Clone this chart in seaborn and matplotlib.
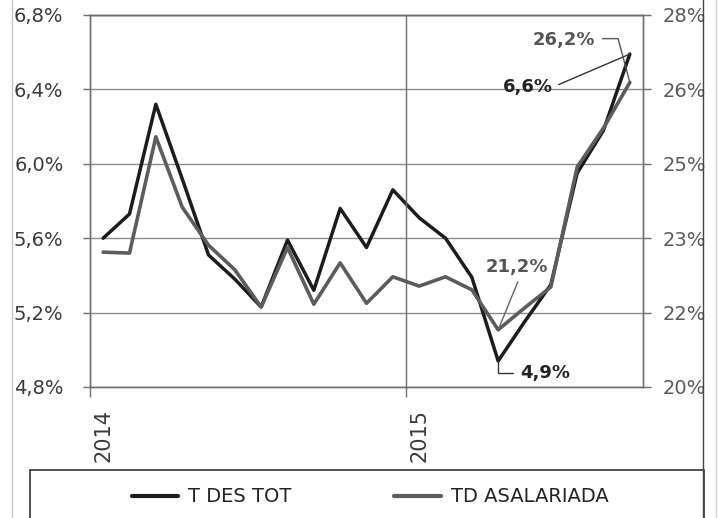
import matplotlib
matplotlib.use("Agg")
import matplotlib.pyplot as plt
import seaborn as sns
import pandas as pd
from matplotlib.ticker import FuncFormatter
from matplotlib.lines import Line2D
from matplotlib.patches import Rectangle

# data (monthly, Jan 2014 - Sep 2015)
t_des_tot = [5.60, 5.73, 6.32, 5.92, 5.51, 5.38, 5.23, 5.59, 5.32, 5.76, 5.55,
             5.86, 5.71, 5.60, 5.39, 4.94, 5.15, 5.35, 5.95, 6.18, 6.59]
td_asalariada = [22.90, 22.88, 25.38, 23.87, 23.05, 22.52, 21.72, 23.00, 21.78,
                 22.67, 21.80, 22.37, 22.17, 22.37, 22.09, 21.23, 21.70, 22.15,
                 24.73, 25.57, 26.55]
year_ticks = [0, 12]
year_labels = ["2014", "2015"]
left_ticks = [4.8, 5.2, 5.6, 6.0, 6.4, 6.8]
right_ticks = [20, 21.6, 23.2, 24.8, 26.4, 28]

df = pd.DataFrame({"mes": range(len(t_des_tot)),
                   "T DES TOT": t_des_tot,
                   "TD ASALARIADA": td_asalariada})

sns.set_theme(style="white")
plt.rcParams['font.family'] = ['DejaVu Sans']

fig = plt.figure(figsize=(7.26, 5.18), dpi=100)
ax = fig.add_axes([90/726, 131/518, 553/726, 372/518])
ax2 = ax.twinx()

black = "#1c1c1c"
grey = "#5c5c5c"

sns.lineplot(data=df, x="mes", y="T DES TOT", ax=ax, color=black, lw=2.5,
             label="T DES TOT", legend=False)
sns.lineplot(data=df, x="mes", y="TD ASALARIADA", ax=ax2, color=grey, lw=2.6,
             label="TD ASALARIADA", legend=False)

ax.set_xlim(-0.5, len(t_des_tot) - 0.5)
ax.set_ylim(left_ticks[0], left_ticks[-1])
ax2.set_ylim(right_ticks[0], right_ticks[-1])
ax.set_xlabel("")
ax.set_ylabel("")
ax2.set_ylabel("")

ax.set_yticks(left_ticks)
ax.yaxis.set_major_formatter(FuncFormatter(lambda v, p: f"{v:.1f}%".replace(".", ",")))
ax2.set_yticks(right_ticks)
ax2.yaxis.set_major_formatter(FuncFormatter(lambda v, p: f"{v:.0f}%"))

ax.set_xticks(year_ticks)
ax.set_xticklabels(year_labels, rotation=90, va="top", ha="center")
ax.set_xticks([t - 0.5 for t in year_ticks], minor=True)

ax.yaxis.grid(True, color="#8c8c8c", lw=1)
ax.axvline(year_ticks[1] - 0.5, color="#6e6e6e", lw=1)

for a in (ax, ax2):
    for s in a.spines.values():
        s.set_color("#707070")
        s.set_linewidth(1)
ax.spines["top"].set_color("#303030")

ax.tick_params(axis="y", which="major", left=True, length=5, width=1, color="#707070",
               pad=14, labelsize=14, labelcolor="#3a3a3a")
ax2.tick_params(axis="y", which="major", right=True, length=6, width=1, color="#707070",
                pad=8, labelsize=14, labelcolor="#5a5a5a")
ax.tick_params(axis="x", which="major", bottom=True, length=0, pad=16, labelsize=15,
               labelcolor="#3a3a3a")
ax.tick_params(axis="x", which="minor", bottom=True, length=7, width=1, color="#707070")

# data labels
n = len(t_des_tot) - 1
i_min = 15
ax.annotate("6,6%", xy=(n, t_des_tot[n]), xytext=(-102, -33), textcoords="offset pixels",
            ha="center", va="center", fontsize=13, fontweight="bold", color="#222222",
            arrowprops=dict(arrowstyle="-", color="#333333", lw=1, shrinkA=2, shrinkB=0,
                            relpos=(1, 0.5)))
ax2.annotate("26,2%", xy=(n, td_asalariada[n]), xytext=(-66, 42), textcoords="offset pixels",
             ha="center", va="center", fontsize=13, fontweight="bold", color="#555555",
             arrowprops=dict(arrowstyle="-", color="#555555", lw=1, shrinkA=3, shrinkB=0,
                             relpos=(1, 0.6), connectionstyle="angle,angleA=0,angleB=105,rad=0"))
ax2.annotate("21,2%", xy=(i_min, td_asalariada[i_min]), xytext=(19, 63), textcoords="offset pixels",
             ha="center", va="center", fontsize=13, fontweight="bold", color="#555555",
             arrowprops=dict(arrowstyle="-", color="#666666", lw=1, shrinkA=2, shrinkB=0,
                             relpos=(0.55, 0)))
ax.annotate("4,9%", xy=(i_min, t_des_tot[i_min]), xytext=(47, -12), textcoords="offset pixels",
            ha="center", va="center", fontsize=13, fontweight="bold", color="#222222",
            arrowprops=dict(arrowstyle="-", color="#333333", lw=1, shrinkA=3, shrinkB=0,
                            relpos=(0, 0.5), connectionstyle="angle,angleA=0,angleB=90,rad=0"))

# legend box at the bottom
handles = [Line2D([], [], color=black, lw=3), Line2D([], [], color=grey, lw=3)]
fig.legend(handles, ["T DES TOT", "TD ASALARIADA"], loc="center",
           bbox_to_anchor=(370/726, 21/518), ncol=2, frameon=False, fontsize=14,
           handlelength=2.4, handletextpad=0.5, columnspacing=5.3,
           labelcolor="#222222")
fig.add_artist(Rectangle((30/726, -0.05), 674/726, 48/518 + 0.05, transform=fig.transFigure,
                         fill=False, edgecolor="#333333", lw=1.2, clip_on=False))

# outer frame lines of the scanned chart
for x, c in [(12, "#c4c4c4"), (703, "#444444"), (716, "#cfcfcf")]:
    fig.add_artist(Line2D([x/726, x/726], [0, 1], transform=fig.transFigure, color=c, lw=1))

fig.savefig("out.png", dpi=100, facecolor="white")
